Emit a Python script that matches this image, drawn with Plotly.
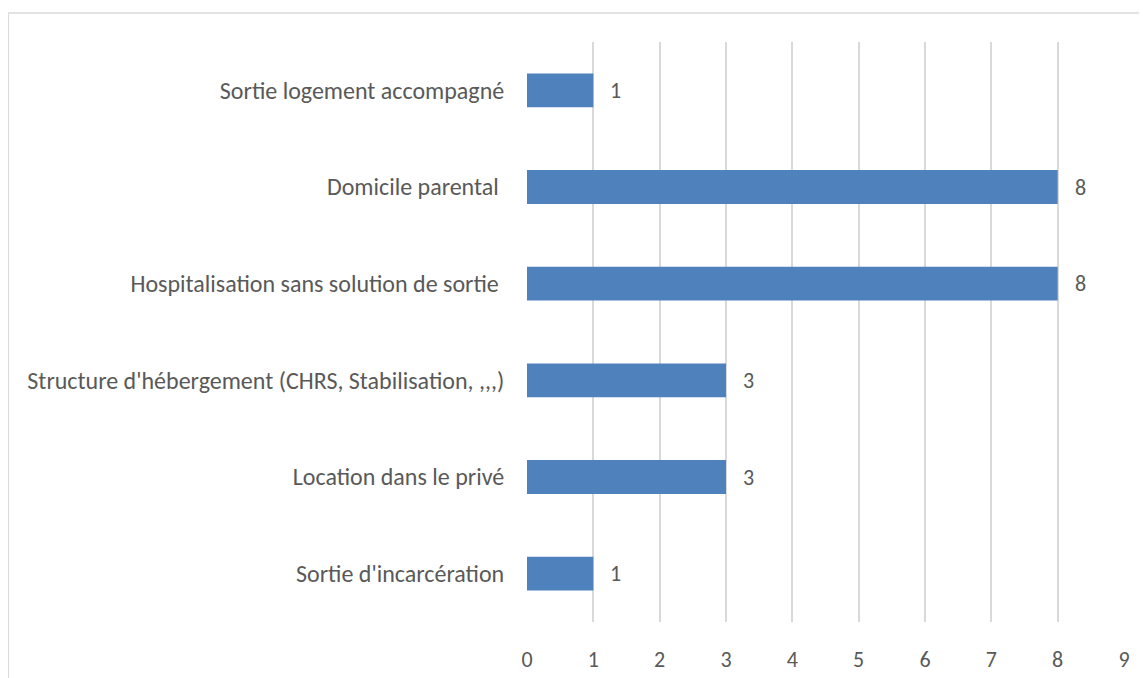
import plotly.graph_objects as go

categories = [
    "Sortie d'incarcération",
    "Location dans le privé",
    "Structure d'hébergement (CHRS, Stabilisation, ,,,)",
    "Hospitalisation sans solution de sortie ",
    "Domicile parental ",
    "Sortie logement accompagné",
]
values = [1, 3, 3, 8, 8, 1]
x_ticks = list(range(0, 10))

FONT = "Carlito, Lato, sans-serif"
TXT = "#595959"
FS = 24
FN = 22

fig = go.Figure(
    go.Bar(
        x=values,
        y=categories,
        orientation="h",
        marker=dict(color="#4f81bd", line=dict(width=0)),
        width=0.35,
        hoverinfo="skip",
    )
)

for c, v in zip(categories, values):
    fig.add_annotation(
        x=v, y=c, text=str(v), showarrow=False, xanchor="left", xshift=15,
        font=dict(family=FONT, size=FN, color=TXT),
    )

# outer frame
fig.add_shape(type="line", xref="paper", yref="paper", x0=-0.869, x1=1.06, y0=1.05, y1=1.05,
              line=dict(color="#d9d9d9", width=1.5))
fig.add_shape(type="line", xref="paper", yref="paper", x0=-0.869, x1=-0.869, y0=1.05, y1=-0.2,
              line=dict(color="#d9d9d9", width=1.5))

fig.update_layout(
    width=1147, height=678,
    margin=dict(l=519, r=31, t=34, b=64),
    paper_bgcolor="white", plot_bgcolor="white",
    font=dict(family=FONT, size=FS, color=TXT),
    showlegend=False,
    xaxis=dict(range=[0, 9], tickvals=x_ticks, showgrid=True, gridcolor="#d9d9d9", gridwidth=1.5,
               zeroline=False, showline=False, ticks="outside", ticklen=18,
               tickcolor="rgba(0,0,0,0)", tickfont=dict(size=FN, color=TXT)),
    yaxis=dict(categoryorder="array", categoryarray=categories, showgrid=False, zeroline=False,
               showline=False, ticks="outside", ticklen=17, tickcolor="rgba(0,0,0,0)",
               tickfont=dict(size=FS, color=TXT)),
)

fig.write_html("out.html")
